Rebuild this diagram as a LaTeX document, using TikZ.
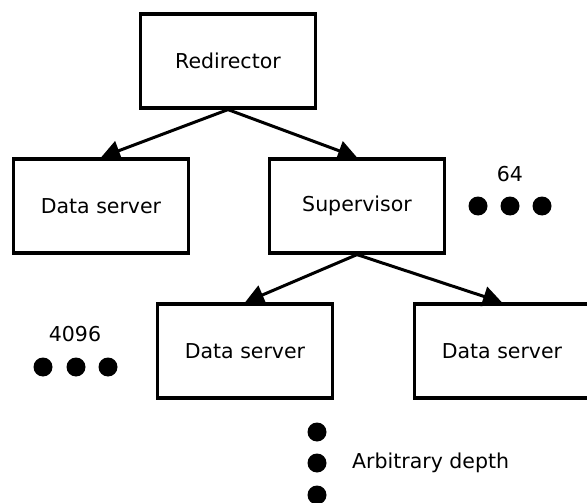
\documentclass[tikz,border=0pt]{standalone}
\usepackage{fontspec}
\setmainfont{DejaVu Sans}
\usetikzlibrary{arrows.meta}
\begin{document}
\begin{tikzpicture}[x=1pt,y=-1pt,
  box/.style={draw, line width=3.2pt, minimum width=175pt, minimum height=94pt,
    inner sep=0pt, font=\fontsize{20.5}{24}\selectfont},
  link/.style={line width=3pt, -{Triangle[length=19pt,width=20pt]}},
  dot/.style={circle, fill, minimum size=19pt, inner sep=0pt},
  lbl/.style={font=\fontsize{20.5}{24}\selectfont, inner sep=0pt}]
  \useasboundingbox (0,0) rectangle (587,503);
  % tree of servers
  \node[box] (red) at (228,61) {Redirector};
  \node[box] (dsl) at (101,206) {Data server};
  \node[box] (sup) at (357,206) {Supervisor};
  \node[box] (dsm) at (245,351) {Data server};
  \node[box] (dsr) at (502,351) {Data server};
  \draw[link] (red.south) -- (dsl.north);
  \draw[link] (red.south) -- (sup.north);
  \draw[link] (sup.south) -- (dsm.north);
  \draw[link] (sup.south) -- (dsr.north);
  % fan-out markers
  \node[lbl] (n64) at (510,174) {64};
  \node[dot] (a1) at (478,206) {};
  \node[dot] (a2) at (510,206) {};
  \node[dot] (a3) at (542,206) {};
  \node[lbl] (n4096) at (75,334) {4096};
  \node[dot] (b1) at (43,367) {};
  \node[dot] (b2) at (76,367) {};
  \node[dot] (b3) at (108,367) {};
  % depth marker
  \node[dot] (c1) at (317,432) {};
  \node[dot] (c2) at (317,463) {};
  \node[dot] (c3) at (317,495) {};
  \node[lbl, anchor=west] (depth) at (352,463) {Arbitrary depth};
\end{tikzpicture}
\end{document}
